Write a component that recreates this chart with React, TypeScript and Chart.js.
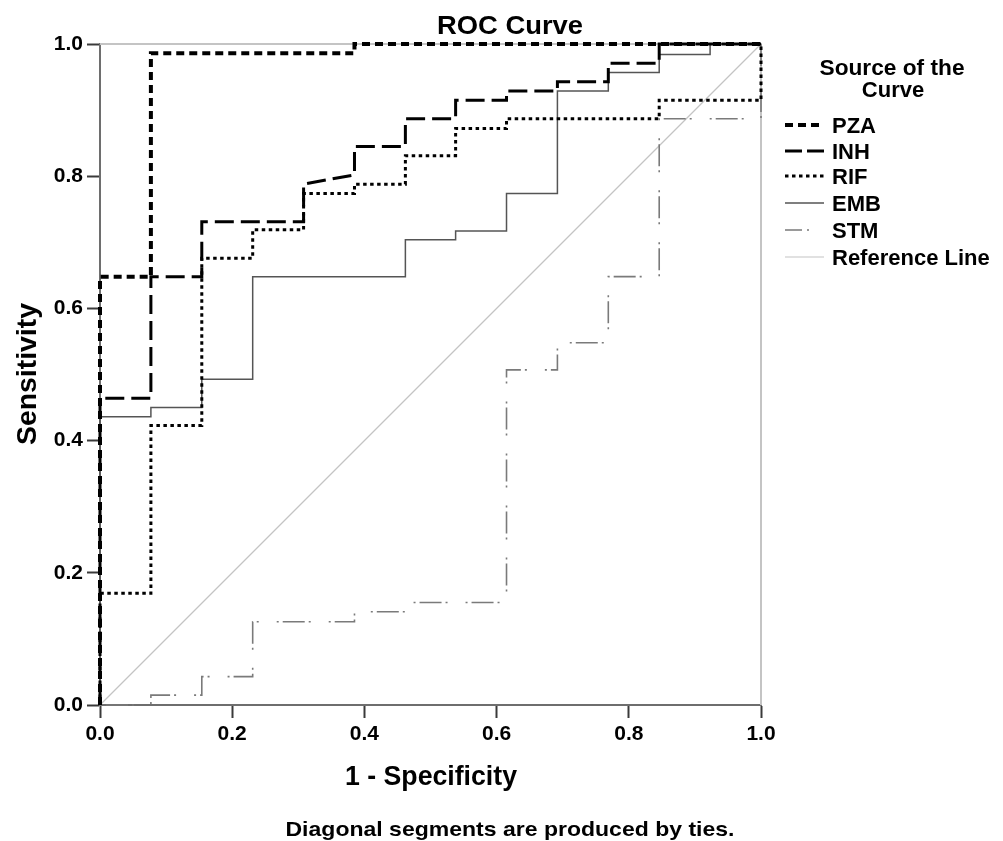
import { useEffect, useRef } from 'react';
import { Chart, registerables } from 'chart.js';

Chart.register(...registerables);

// ROC coordinates (1 - specificity, sensitivity)
const tickValues = [0, 0.2, 0.4, 0.6, 0.8, 1.0];
const curveNames = ['PZA', 'INH', 'RIF', 'EMB', 'STM', 'Reference Line'];

const pzaFpr = [0, 0, 0.077, 0.077, 0.385, 0.385, 1];
const pzaTpr = [0, 0.648, 0.648, 0.986, 0.986, 1, 1];

const inhFpr = [0, 0, 0.077, 0.077, 0.154, 0.154, 0.308, 0.308, 0.385, 0.385, 0.462, 0.462, 0.538, 0.538, 0.615, 0.615, 0.692, 0.692, 0.769, 0.769, 0.846, 0.846, 1];
const inhTpr = [0, 0.464, 0.464, 0.648, 0.648, 0.731, 0.731, 0.788, 0.802, 0.845, 0.845, 0.887, 0.887, 0.915, 0.915, 0.929, 0.929, 0.943, 0.943, 0.971, 0.971, 1, 1];

const rifFpr = [0, 0, 0.077, 0.077, 0.154, 0.154, 0.231, 0.231, 0.308, 0.308, 0.385, 0.385, 0.462, 0.462, 0.538, 0.538, 0.615, 0.615, 0.846, 0.846, 1, 1];
const rifTpr = [0, 0.169, 0.169, 0.423, 0.423, 0.676, 0.676, 0.719, 0.719, 0.774, 0.774, 0.788, 0.788, 0.831, 0.831, 0.872, 0.872, 0.887, 0.887, 0.915, 0.915, 1];

const embFpr = [0, 0, 0.077, 0.077, 0.154, 0.154, 0.231, 0.231, 0.462, 0.462, 0.538, 0.538, 0.615, 0.615, 0.692, 0.692, 0.769, 0.769, 0.846, 0.846, 0.923, 0.923, 1];
const embTpr = [0, 0.436, 0.436, 0.450, 0.450, 0.493, 0.493, 0.648, 0.648, 0.704, 0.704, 0.717, 0.717, 0.774, 0.774, 0.929, 0.929, 0.957, 0.957, 0.984, 0.984, 1, 1];

const stmFpr = [0, 0.077, 0.077, 0.154, 0.154, 0.231, 0.231, 0.385, 0.385, 0.462, 0.462, 0.615, 0.615, 0.692, 0.692, 0.769, 0.769, 0.846, 0.846, 1, 1];
const stmTpr = [0, 0, 0.015, 0.015, 0.043, 0.043, 0.126, 0.126, 0.141, 0.141, 0.155, 0.155, 0.507, 0.507, 0.548, 0.548, 0.648, 0.648, 0.887, 0.887, 1];

const refFpr = [0, 1];
const refTpr = [0, 1];

const FONT = '"Liberation Sans", Arial, sans-serif';

const toPoints = (xs: number[], ys: number[]) => xs.map((x, i) => ({ x, y: ys[i] }));

// draw bold text squeezed/stretched to a target width
function fitText(ctx: CanvasRenderingContext2D, text: string, x: number, y: number, size: number, width: number | null, align: CanvasTextAlign) {
  ctx.save();
  ctx.font = `bold ${size}px ${FONT}`;
  ctx.textAlign = align;
  ctx.textBaseline = 'alphabetic';
  ctx.fillStyle = '#000';
  ctx.translate(x, y);
  if (width) {
    const w = ctx.measureText(text).width;
    ctx.scale(width / w, 1);
  }
  ctx.fillText(text, 0, 0);
  ctx.restore();
}

const rocDecor = {
  id: 'rocDecor',
  beforeDatasetsDraw(chart: any) {
    const { ctx, chartArea: a } = chart;
    ctx.save();
    ctx.strokeStyle = '#c4c4c4';
    ctx.lineWidth = 2;
    ctx.beginPath();
    ctx.moveTo(a.left, a.top);
    ctx.lineTo(a.right, a.top);
    ctx.lineTo(a.right, a.bottom);
    ctx.stroke();
    ctx.restore();
  },
  afterDraw(chart: any) {
    const { ctx } = chart;
    fitText(ctx, 'ROC Curve', 510, 34, 25, 146, 'center');
    fitText(ctx, '1 - Specificity', 431, 785, 27, 172, 'center');
    fitText(ctx, 'Diagonal segments are produced by ties.', 510, 836, 21, 449, 'center');

    ctx.save();
    ctx.translate(36, 374);
    ctx.rotate(-Math.PI / 2);
    fitText(ctx, 'Sensitivity', 0, 0, 28, 142, 'center');
    ctx.restore();

    // legend
    fitText(ctx, 'Source of the', 892, 75, 22, 145, 'center');
    fitText(ctx, 'Curve', 893, 97, 22, null, 'center');
    const baselines = [133, 159, 184, 211, 238, 265];
    chart.data.datasets.forEach((ds: any, i: number) => {
      const y = baselines[i];
      ctx.save();
      ctx.strokeStyle = ds.borderColor;
      ctx.lineWidth = ds.borderWidth;
      ctx.setLineDash(ds.legendDash || ds.borderDash || []);
      ctx.beginPath();
      ctx.moveTo(785, y - 8);
      ctx.lineTo(824, y - 8);
      ctx.stroke();
      ctx.restore();
      fitText(ctx, ds.label, 832, y, 22, null, 'left');
    });
  },
};

export default function App() {
  const canvasRef = useRef<HTMLCanvasElement>(null);
  const chartRef = useRef<Chart | null>(null);

  useEffect(() => {
    if (!canvasRef.current) return;
    if (chartRef.current) chartRef.current.destroy();

    const axis = (extra: any) => ({
      type: 'linear',
      min: 0,
      max: 1,
      afterBuildTicks: (scale: any) => {
        scale.ticks = tickValues.map((v) => ({ value: v }));
      },
      grid: {
        drawOnChartArea: false,
        drawTicks: true,
        tickLength: 13,
        tickColor: '#3a3a3a',
        tickWidth: 2,
      },
      border: { display: true, color: '#6e6e6e', width: 2 },
      ...extra,
    });

    chartRef.current = new Chart(canvasRef.current, {
      type: 'line',
      data: {
        datasets: [
          {
            label: curveNames[0],
            data: toPoints(pzaFpr, pzaTpr),
            borderColor: '#000',
            borderWidth: 4,
            borderDash: [8, 5],
          },
          {
            label: curveNames[1],
            data: toPoints(inhFpr, inhTpr),
            borderColor: '#000',
            borderWidth: 3,
            borderDash: [19, 7],
            legendDash: [17, 5],
          },
          {
            label: curveNames[2],
            data: toPoints(rifFpr, rifTpr),
            borderColor: '#000',
            borderWidth: 3,
            borderDash: [3.5, 3.5],
          },
          {
            label: curveNames[3],
            data: toPoints(embFpr, embTpr),
            borderColor: '#555',
            borderWidth: 1.5,
          },
          {
            label: curveNames[4],
            data: toPoints(stmFpr, stmTpr),
            borderColor: '#7a7a7a',
            borderWidth: 1.6,
            borderDash: [2, 4, 22, 4, 2, 18],
            legendDash: [17, 5, 2, 40],
          },
          {
            label: curveNames[5],
            data: toPoints(refFpr, refTpr),
            borderColor: '#c4c4c4',
            borderWidth: 1.2,
          },
        ] as any,
      },
      options: {
        responsive: true,
        maintainAspectRatio: false,
        animation: false,
        clip: false as any,
        elements: {
          point: { radius: 0, hoverRadius: 0 },
          line: { tension: 0, fill: false, borderCapStyle: 'butt' },
        },
        layout: { padding: { left: 0, top: 44, right: 242, bottom: 76 } },
        plugins: {
          legend: { display: false },
          title: { display: false },
          tooltip: { enabled: false },
        },
        scales: {
          x: axis({
            position: 'bottom',
            ticks: {
              color: '#000',
              font: { family: FONT, size: 21, weight: 'bold' },
              padding: 4,
              maxRotation: 0,
              callback: (v: any) => Number(v).toFixed(1),
            },
            afterFit: (scale: any) => {
              scale.height = 60;
            },
          }),
          y: axis({
            position: 'left',
            ticks: {
              color: '#000',
              font: { family: FONT, size: 21, weight: 'bold' },
              padding: 4,
              callback: (v: any) => Number(v).toFixed(1),
            },
            afterFit: (scale: any) => {
              scale.width = 100;
            },
          }),
        } as any,
      },
      plugins: [rocDecor],
    });

    return () => {
      if (chartRef.current) {
        chartRef.current.destroy();
        chartRef.current = null;
      }
    };
  }, []);

  return (
    <div style={{ position: 'fixed', left: 0, top: 0, width: 1003, height: 841, background: '#fff' }}>
      <canvas ref={canvasRef} role="img" aria-label="ROC curves for PZA, INH, RIF, EMB and STM" />
    </div>
  );
}
